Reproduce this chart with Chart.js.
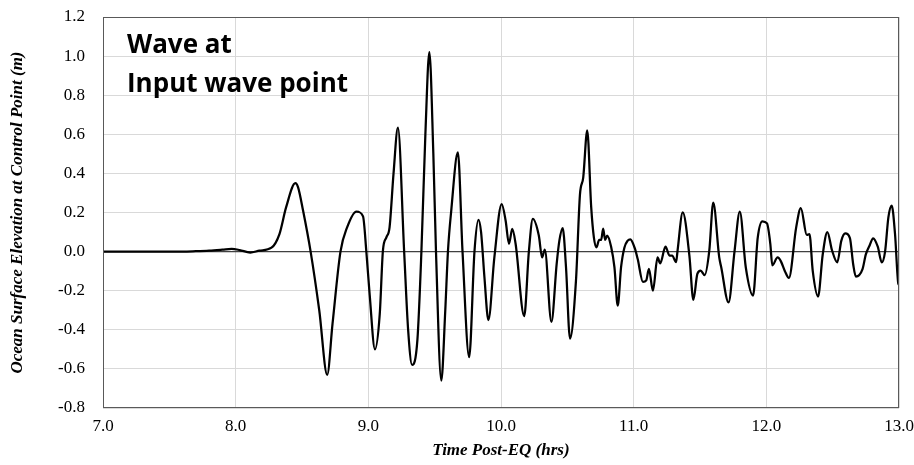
<!DOCTYPE html>
<html>
<head>
<meta charset="utf-8">
<script src="https://cdn.jsdelivr.net/npm/chart.js@4/dist/chart.umd.min.js"></script>
<style>
    html, body { margin: 0; padding: 0; background: #fff; }
    #wrap { width: 914px; height: 465px; }
</style>
</head>
<body>
<div id="wrap"><canvas id="chart"></canvas></div>
<script>
// time post-EQ (hrs) and surface elevation (m)
const times = [
    7.0, 7.3, 7.6, 7.7, 7.8, 7.9, 7.97, 8.03, 8.11, 8.18, 8.27, 8.33, 8.38, 8.45, 8.47, 8.508,
    8.565, 8.63, 8.69, 8.73, 8.79, 8.84, 8.91, 8.96, 8.985, 9.01, 9.05, 9.086, 9.11, 9.136, 9.16,
    9.19, 9.223, 9.27, 9.3, 9.33, 9.37, 9.4, 9.43, 9.46, 9.49, 9.51, 9.55, 9.58, 9.6, 9.625,
    9.675, 9.71, 9.76, 9.8, 9.83, 9.85, 9.875, 9.905, 9.95, 10.005, 10.035, 10.06, 10.085, 10.11, 10.175,
    10.21, 10.24, 10.285, 10.31, 10.33, 10.38, 10.42, 10.44, 10.465, 10.49, 10.52, 10.565, 10.595, 10.62, 10.65,
    10.68, 10.7, 10.72, 10.74, 10.755, 10.77, 10.785, 10.8, 10.83, 10.855, 10.88, 10.905, 10.93, 10.955, 10.975,
    11.007, 11.03, 11.07, 11.095, 11.115, 11.145, 11.18, 11.2, 11.24, 11.27, 11.29, 11.32, 11.33, 11.37, 11.42,
    11.45, 11.48, 11.505, 11.535, 11.57, 11.6, 11.645, 11.66, 11.715, 11.76, 11.8, 11.845, 11.9, 11.935, 11.97,
    12.005, 12.03, 12.045, 12.085, 12.11, 12.14, 12.17, 12.225, 12.26, 12.305, 12.325, 12.35, 12.39, 12.425, 12.46,
    12.495, 12.535, 12.565, 12.595, 12.63, 12.655, 12.675, 12.725, 12.75, 12.78, 12.805, 12.84, 12.87, 12.895, 12.92,
    12.945, 12.97, 12.995, 13.0
];
const elevation = [
    0.0, 0.0, 0.0, 0.002, 0.005, 0.01, 0.014, 0.008, -0.005, 0.005, 0.02, 0.09, 0.226, 0.35, 0.33, 0.21,
    0.0, -0.3, -0.63, -0.37, 0.0, 0.124, 0.205, 0.18, 0.0, -0.22, -0.5, -0.32, 0.005, 0.073, 0.124,
    0.4, 0.634, 0.0, -0.4, -0.58, -0.45, 0.0, 0.6, 1.02, 0.5, 0.0, -0.66, -0.3, 0.0, 0.21,
    0.507, 0.0, -0.54, 0.0, 0.162, 0.098, -0.13, -0.35, -0.03, 0.243, 0.158, 0.04, 0.116, 0.04, -0.33,
    0.0, 0.167, 0.082, -0.03, 0.01, -0.36, -0.06, 0.056, 0.12, -0.08, -0.445, -0.15, 0.29, 0.38, 0.62,
    0.226, 0.073, 0.022, 0.06, 0.06, 0.117, 0.06, 0.082, 0.025, -0.08, -0.276, -0.08, 0.02, 0.056, 0.063,
    0.02, -0.037, -0.155, -0.147, -0.088, -0.2, -0.03, -0.06, 0.026, -0.02, -0.02, -0.054, 0.0, 0.2, -0.02,
    -0.247, -0.114, -0.097, -0.12, 0.005, 0.25, -0.03, -0.08, -0.26, 0.0, 0.204, -0.08, -0.225, 0.07, 0.155,
    0.144, 0.04, -0.07, -0.03, -0.05, -0.1, -0.135, 0.124, 0.223, 0.085, 0.09, -0.1, -0.23, -0.015, 0.1,
    0.007, -0.055, 0.055, 0.093, 0.069, -0.066, -0.128, -0.09, -0.014, 0.034, 0.068, 0.025, -0.055, 0.0, 0.175,
    0.235, 0.09, -0.165, -0.17
];
const xTicks = [7, 8, 9, 10, 11, 12, 13];
const noteLines = ['Wave at', 'Input wave point'];

const serif = '"Liberation Serif", "Times New Roman", serif';

// box around the plot area, plus the note in the upper left
const framePlugin = {
    id: 'frame',
    afterDraw(chart) {
        const {ctx, chartArea: a} = chart;
        ctx.save();
        ctx.strokeStyle = '#595959';
        ctx.lineWidth = 1;
        ctx.strokeRect(a.left + 0.5, a.top + 0.5, a.right - a.left - 1, a.bottom - a.top - 1);
        ctx.fillStyle = '#000';
        ctx.font = 'bold 26px "Open Sans", sans-serif';
        ctx.textBaseline = 'alphabetic';
        ctx.fillText(noteLines[0], 127, 53);
        ctx.fillText(noteLines[1], 127, 92);
        ctx.restore();
    }
};

new Chart(document.getElementById('chart'), {
    type: 'line',
    data: {
        datasets: [{
            data: times.map((t, i) => ({x: t, y: elevation[i]})),
            borderColor: '#000',
            borderWidth: 2.25,
            pointRadius: 0,
            fill: false,
            cubicInterpolationMode: 'monotone'
        }]
    },
    options: {
        responsive: true,
        maintainAspectRatio: false,
        animation: false,
        layout: {padding: {top: 17, right: 15, left: 0, bottom: 0}},
        plugins: {
            legend: {display: false},
            tooltip: {enabled: false}
        },
        scales: {
            x: {
                type: 'linear',
                min: 7,
                max: 13,
                afterBuildTicks: axis => {
                    axis.ticks = xTicks.map(v => ({value: v}));
                },
                afterFit: axis => {
                    axis.height = 57;
                    axis.paddingLeft = 0;
                    axis.paddingRight = 0;
                },
                ticks: {
                    color: '#000',
                    font: {family: serif, size: 17},
                    padding: 8,
                    maxRotation: 0,
                    callback: v => v.toFixed(1)
                },
                grid: {color: '#d9d9d9', drawTicks: false},
                border: {display: false},
                title: {
                    display: true,
                    text: 'Time Post-EQ (hrs)',
                    color: '#000',
                    font: {family: serif, size: 17, weight: 'bold', style: 'italic'},
                    padding: {top: 0, bottom: 4}
                }
            },
            y: {
                min: -0.8,
                max: 1.2,
                afterFit: axis => {
                    axis.width = 103;
                    axis.paddingTop = 0;
                    axis.paddingBottom = 0;
                },
                ticks: {
                    stepSize: 0.2,
                    color: '#000',
                    font: {family: serif, size: 17},
                    padding: 18,
                    callback: v => v.toFixed(1)
                },
                grid: {
                    drawTicks: false,
                    color: ctx => Math.abs(ctx.tick.value) < 1e-9 ? '#404040' : '#d9d9d9',
                    lineWidth: ctx => Math.abs(ctx.tick.value) < 1e-9 ? 1.25 : 1
                },
                border: {display: false},
                title: {
                    display: true,
                    text: 'Ocean Surface Elevation at Control Point (m)',
                    color: '#000',
                    font: {family: serif, size: 17, weight: 'bold', style: 'italic'},
                    padding: {top: 7, bottom: 0}
                }
            }
        }
    },
    plugins: [framePlugin]
});
</script>
</body>
</html>
